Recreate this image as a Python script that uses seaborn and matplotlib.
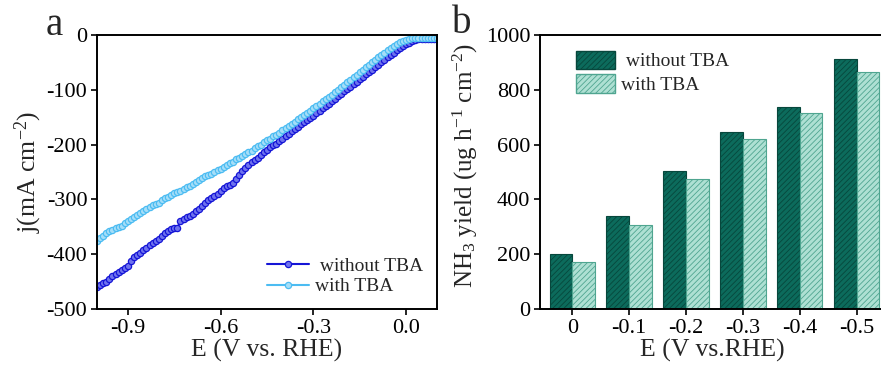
import numpy as np
import pandas as pd
import matplotlib
matplotlib.use("Agg")
import matplotlib.pyplot as plt
import seaborn as sns

# ---- data: panel a (LSV curves) ----
E_lsv = [-1.00, -0.99, -0.98, -0.97, -0.96, -0.95, -0.94, -0.93, -0.92, -0.91,
         -0.90, -0.89, -0.88, -0.87, -0.86, -0.85, -0.84, -0.83, -0.82, -0.81,
         -0.80, -0.79, -0.78, -0.77, -0.76, -0.75, -0.74, -0.73, -0.72, -0.71,
         -0.70, -0.69, -0.68, -0.67, -0.66, -0.65, -0.64, -0.63, -0.62, -0.61,
         -0.60, -0.59, -0.58, -0.57, -0.56, -0.55, -0.54, -0.53, -0.52, -0.51,
         -0.50, -0.49, -0.48, -0.47, -0.46, -0.45, -0.44, -0.43, -0.42, -0.41,
         -0.40, -0.39, -0.38, -0.37, -0.36, -0.35, -0.34, -0.33, -0.32, -0.31,
         -0.30, -0.29, -0.28, -0.27, -0.26, -0.25, -0.24, -0.23, -0.22, -0.21,
         -0.20, -0.19, -0.18, -0.17, -0.16, -0.15, -0.14, -0.13, -0.12, -0.11,
         -0.10, -0.09, -0.08, -0.07, -0.06, -0.05, -0.04, -0.03, -0.02, -0.01,
         0.00, 0.01, 0.02, 0.03, 0.04, 0.05, 0.06, 0.07, 0.08, 0.09, 0.10]
j_without = [-460, -456, -452, -450, -446, -440, -436, -432, -428, -425,
             -422, -412, -405, -401, -398, -393, -388, -384, -380, -376,
             -372, -367, -362, -358, -354, -352, -352, -340, -336, -333,
             -330, -326, -322, -317, -312, -307, -302, -298, -294, -290,
             -285, -280, -276, -273, -270, -262, -255, -248, -242, -237,
             -232, -228, -224, -219, -214, -209, -205, -201, -198, -194,
             -190, -185, -181, -176, -172, -167, -163, -159, -155, -151,
             -147, -142, -138, -133, -129, -125, -121, -116, -112, -107,
             -103, -99, -95, -90, -86, -81, -77, -72, -68, -63,
             -59, -54, -50, -45, -41, -37, -33, -28, -24, -20,
             -17, -14, -11, -9, -8, -7, -7, -7, -7, -7, -7]
j_with = [-375, -370, -366, -362, -358, -355, -352, -350, -348, -343,
          -340, -336, -332, -328, -325, -321, -318, -314, -311, -309,
          -306, -302, -298, -295, -292, -289, -287, -284, -281, -278,
          -275, -271, -268, -264, -261, -258, -256, -253, -250, -247,
          -244, -241, -238, -234, -231, -227, -224, -221, -218, -214,
          -211, -207, -203, -200, -196, -192, -189, -185, -182, -178,
          -174, -170, -166, -162, -158, -154, -150, -146, -142, -138,
          -134, -130, -126, -121, -117, -113, -109, -104, -100, -95,
          -91, -86, -82, -77, -73, -68, -64, -59, -55, -50,
          -46, -41, -37, -32, -28, -24, -20, -16, -13, -11,
          -9, -7, -6, -5, -5, -5, -5, -5, -5, -5, -5]

# ---- data: panel b (NH3 yield bars) ----
potentials = ["0", "-0.1", "-0.2", "-0.3", "-0.4", "-0.5"]
yield_without = [200, 338, 503, 647, 738, 914]
yield_with = [173, 305, 474, 622, 716, 865]
series_names = [" without TBA", "with TBA"]

sns.set_style("ticks")
plt.rcParams["font.family"] = ["Liberation Serif", "DejaVu Serif"]
plt.rcParams["mathtext.fontset"] = "custom"
plt.rcParams["mathtext.rm"] = "Liberation Serif"
plt.rcParams["mathtext.it"] = "Liberation Serif:italic"
plt.rcParams["hatch.linewidth"] = 0.6

fig = plt.figure(figsize=(8.81, 3.69), dpi=100)
axA = fig.add_axes([97 / 881, 1 - 309 / 369, 340 / 881, 274 / 369])
axB = fig.add_axes([540 / 881, 1 - 309 / 369, 345 / 881, 274 / 369])

# ---- panel a ----
dfA = pd.DataFrame({
    "E": E_lsv * 2,
    "j": j_without + j_with,
    "series": [series_names[0]] * len(E_lsv) + [series_names[1]] * len(E_lsv),
})
line_colors = {series_names[0]: "#1515d6", series_names[1]: "#4cbcf2"}
face_colors = {series_names[0]: "#6f73ee", series_names[1]: "#a6def8"}
for name in series_names:
    sub = dfA[dfA["series"] == name]
    sns.lineplot(data=sub, x="E", y="j", ax=axA, color=line_colors[name],
                 marker="o", markersize=4.5, markerfacecolor=face_colors[name],
                 markeredgecolor=line_colors[name], markeredgewidth=0.9,
                 linewidth=1.5, label=name, estimator=None, sort=False)
axA.set_xlim(-1.0, 0.1)
axA.set_ylim(-500, 0)
axA.set_xticks([-0.9, -0.6, -0.3, 0.0])
axA.set_xticklabels(["-0.9", "-0.6", "-0.3", "0.0"])
axA.set_yticks([0, -100, -200, -300, -400, -500])
axA.set_yticklabels(["0", "-100", "-200", "-300", "-400", "-500"])
axA.set_xlabel("E (V vs. RHE)", fontsize=18.5, labelpad=1)
axA.set_ylabel("j(mA cm$^{-2}$)", fontsize=18.5, labelpad=2)
axA.legend(loc="lower right", frameon=False, fontsize=14, handlelength=2.2,
           handletextpad=0.3, borderaxespad=0.3, labelspacing=0.15)

# ---- panel b ----
dfB = pd.DataFrame({
    "E": potentials * 2,
    "yield": yield_without + yield_with,
    "series": [series_names[0]] * len(potentials) + [series_names[1]] * len(potentials),
})
sns.barplot(data=dfB, x="E", y="yield", hue="series", order=potentials,
            hue_order=series_names, palette=["#0c6b5c", "#aee0d3"],
            width=0.8, ax=axB, errorbar=None, saturation=1)
for bar in axB.containers[0]:
    bar.set_edgecolor("#07473c")
    bar.set_linewidth(0.8)
    bar.set_hatch("//////")
for bar in axB.containers[1]:
    bar.set_edgecolor("#4fa590")
    bar.set_linewidth(0.8)
    bar.set_hatch("//////")
axB.set_xlim(-0.57, 5.5)
axB.set_ylim(0, 1000)
axB.set_yticks([0, 200, 400, 600, 800, 1000])
axB.set_xlabel("E (V vs.RHE)", fontsize=18.5, labelpad=1)
axB.set_ylabel("NH$_3$ yield (ug h$^{-1}$ cm$^{-2}$)", fontsize=18, labelpad=2)
axB.yaxis.set_label_coords(-0.175, 0.525)
legB = axB.legend(loc="upper left", frameon=False, fontsize=14, handlelength=2.0,
                  handleheight=1.1, handletextpad=0.3, borderaxespad=0.4,
                  labelspacing=0.2, bbox_to_anchor=(0.06, 1.0))
hs = legB.legend_handles
hs[0].set_edgecolor("#07473c"); hs[0].set_hatch("//////")
hs[1].set_edgecolor("#4fa590"); hs[1].set_hatch("//////")

for ax in (axA, axB):
    for s in ax.spines.values():
        s.set_visible(True)
        s.set_linewidth(1.4)
        s.set_color("black")
    ax.tick_params(axis="both", direction="out", length=4, width=1.2,
                   labelsize=16, colors="black", pad=3)

fig.text(46 / 881, 1 - 35 / 369, "a", fontsize=28)
fig.text(452 / 881, 1 - 33 / 369, "b", fontsize=28)

fig.savefig("out.png", dpi=100)
